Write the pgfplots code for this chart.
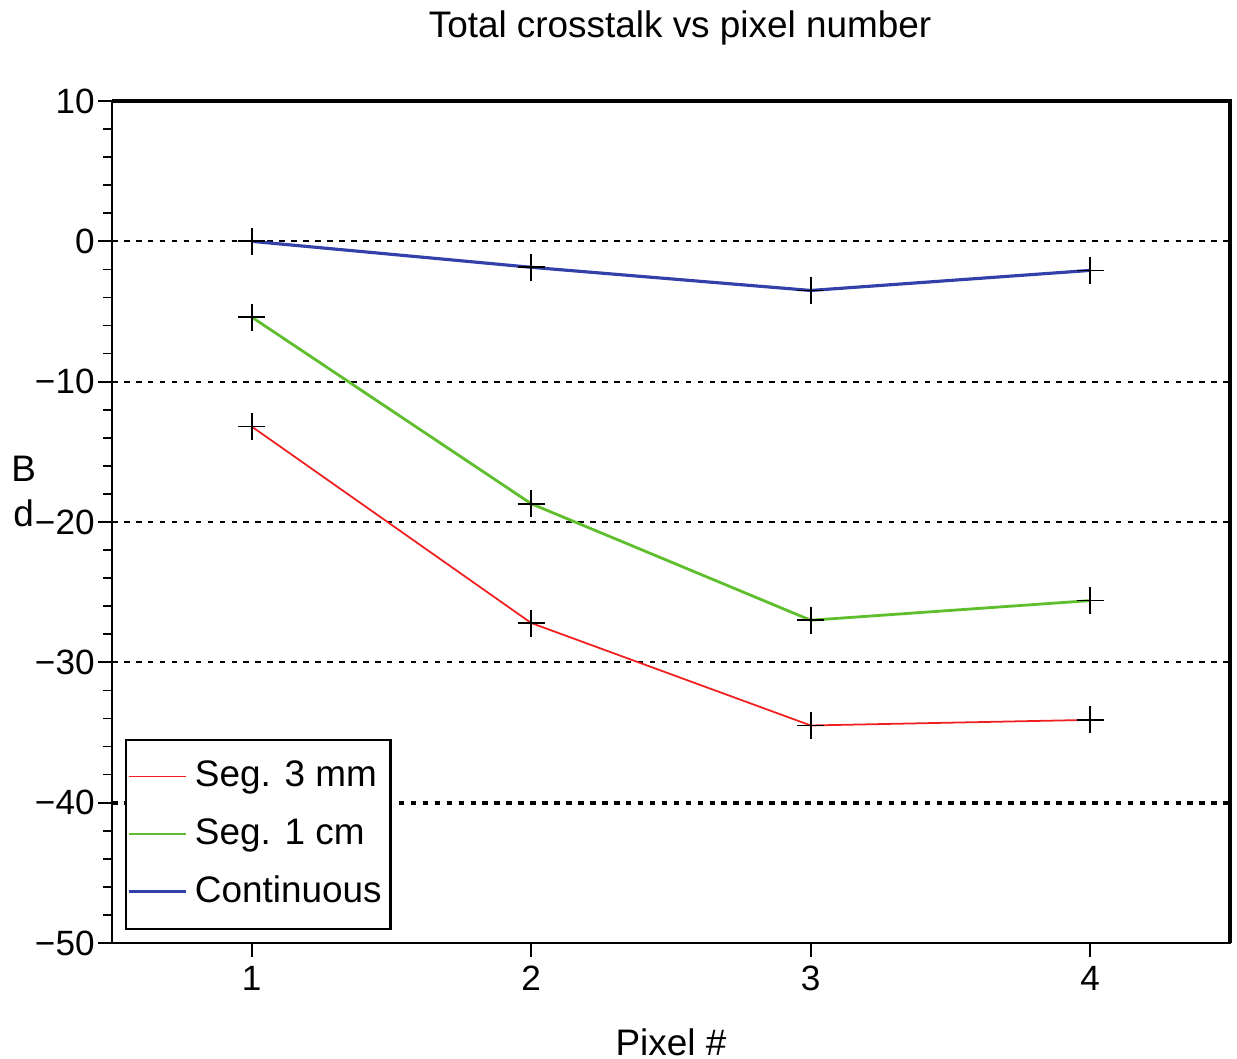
\documentclass[border=0pt]{standalone}
\usepackage{fontspec}
\setmainfont{Liberation Sans}
\usepackage{pgfplots}
\pgfplotsset{compat=1.18}

\definecolor{segred}{RGB}{240,30,30}
\definecolor{seggreen}{RGB}{95,190,45}
\definecolor{contblue}{RGB}{50,65,170}

\begin{document}
\begin{tikzpicture}
\begin{axis}[
    name=ax,
    scale only axis,
    width=111.8mm, height=84.2mm,
    xmin=0.5, xmax=4.5,
    ymin=-50, ymax=10,
    xtick={1,2,3,4},
    ytick={-50,-40,-30,-20,-10,0,10},
    yticklabels={−50,−40,−30,−20,−10,0,10},
    minor y tick num=4,
    tick align=outside,
    xtick pos=bottom, ytick pos=left,
    major tick length=1.4mm,
    minor tick length=0.9mm,
    every tick/.style={black, line width=0.5pt},
    axis line style={line width=0.6pt},
    ymajorgrids,
    grid style={black, line width=0.5pt, dash pattern=on 1.6pt off 1.8pt},
    extra y ticks={-40},
    extra y tick labels={},
    extra y tick style={grid style={black, line width=1.1pt, dash pattern=on 1.6pt off 1.8pt}},
    ticklabel style={font=\fontsize{10}{12}\selectfont},
    yticklabel style={xshift=0.9mm},
    xticklabel style={yshift=0.3mm},
    /pgf/number format/assume math mode=true,
    every axis title shift=0pt,
    title={Total crosstalk vs pixel number},
    title style={font=\fontsize{10.5}{12}\selectfont, at={(axis description cs:0.5,1.087)}, anchor=center, xshift=0.9mm, inner sep=0pt},
    xlabel={Pixel \#},
    xlabel style={font=\fontsize{10.5}{12}\selectfont, at={(axis description cs:0.5,-0.1176)}, anchor=center, inner sep=0pt},
    ylabel={B\\d},
    every axis y label/.style={at={(axis description cs:-0.079,0.536)}, anchor=center, align=center, inner sep=0pt, font=\fontsize{10.5}{12.8}\selectfont},
    legend style={at={(axis description cs:0.0116,0.0154)}, anchor=south west,
        draw=black, line width=0.6pt, font=\fontsize{10.5}{12}\selectfont,
        row sep=3.5pt, inner xsep=0.5pt, inner ysep=4pt, cells={anchor=west}},
    legend image code/.code={\draw[#1] (0.2mm,0mm) -- (5.9mm,0mm);},
    mark options={solid, black, line width=0.5pt},
    every axis plot/.append style={mark=+, mark size=1.35mm},
    clip=false,
]
\addplot[color=segred, line width=0.5pt] coordinates {(1,-13.2)(2,-27.2)(3,-34.5)(4,-34.1)};
\addplot[color=seggreen, line width=0.8pt] coordinates {(1,-5.4)(2,-18.7)(3,-27.0)(4,-25.6)};
\addplot[color=contblue, line width=0.9pt] coordinates {(1,0)(2,-1.85)(3,-3.5)(4,-2.07)};
\legend{Seg. 3 mm, Seg. 1 cm, Continuous}
\draw[black, line width=1.3pt] (rel axis cs:0,1) -- (rel axis cs:1,1) -- (rel axis cs:1,0);
\path (rel axis cs:-0.1002,-0.1366) rectangle (rel axis cs:1.00626,1.1200);
\end{axis}
\end{tikzpicture}
\end{document}
